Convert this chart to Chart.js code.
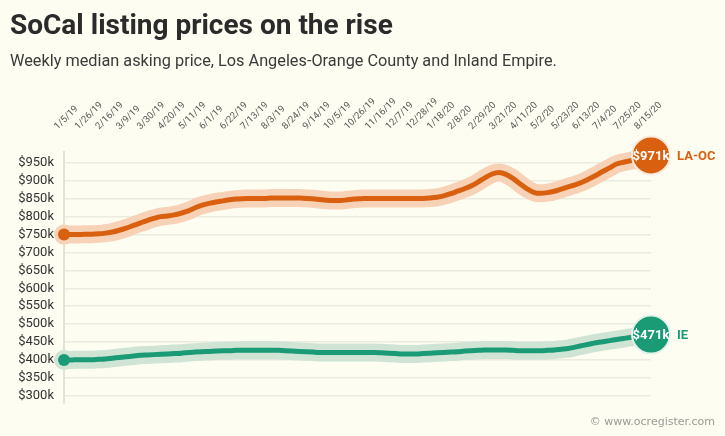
<!DOCTYPE html>
<html>
<head>
<meta charset="utf-8">
<script src="https://cdn.jsdelivr.net/npm/chart.js@4.4.1/dist/chart.umd.min.js"></script>
<style>
html,body{margin:0;padding:0;background:#fdfdf1;}
#wrap{position:relative;width:725px;height:436px;}
</style>
</head>
<body>
<div id="wrap"><canvas id="c"></canvas></div>
<script>
const titleText = 'SoCal listing prices on the rise';
const subtitleText = 'Weekly median asking price, Los Angeles-Orange County and Inland Empire.';
const creditText = '\u00A9 www.ocregister.com';

const weeks = [
  '1/5/19','1/12/19','1/19/19','1/26/19','2/2/19','2/9/19','2/16/19','2/23/19','3/2/19','3/9/19',
  '3/16/19','3/23/19','3/30/19','4/6/19','4/13/19','4/20/19','4/27/19','5/4/19','5/11/19','5/18/19',
  '5/25/19','6/1/19','6/8/19','6/15/19','6/22/19','6/29/19','7/6/19','7/13/19','7/20/19','7/27/19',
  '8/3/19','8/10/19','8/17/19','8/24/19','8/31/19','9/7/19','9/14/19','9/21/19','9/28/19','10/5/19',
  '10/12/19','10/19/19','10/26/19','11/2/19','11/9/19','11/16/19','11/23/19','11/30/19','12/7/19','12/14/19',
  '12/21/19','12/28/19','1/4/20','1/11/20','1/18/20','1/25/20','2/1/20','2/8/20','2/15/20','2/22/20',
  '2/29/20','3/7/20','3/14/20','3/21/20','3/28/20','4/4/20','4/11/20','4/18/20','4/25/20','5/2/20',
  '5/9/20','5/16/20','5/23/20','5/30/20','6/6/20','6/13/20','6/20/20','6/27/20','7/4/20','7/11/20',
  '7/18/20','7/25/20','8/1/20','8/8/20','8/15/20','8/22/20'
];

// Weekly median asking price, in $ thousands
const laocValues = [
  750,750,750,751,751,752,754,757,762,768,
  775,782,789,795,800,802,805,810,816,825,
  832,837,841,844,847,849,850,851,851,851,
  852,852,852,852,852,851,850,848,846,845,
  845,847,849,850,851,851,851,851,851,851,
  851,851,851,852,854,858,864,871,878,886,
  897,909,919,923,918,907,892,878,868,865,
  867,871,877,883,889,896,905,915,926,936,
  947,952,956,959,963,971
];
const ieValues = [
  400,400,401,401,401,402,403,405,407,409,
  411,413,414,415,416,417,418,419,421,422,
  423,424,425,426,426,427,427,427,427,427,
  427,427,426,425,424,423,422,421,421,421,
  421,421,421,421,421,421,420,419,418,417,
  417,417,418,419,420,421,422,423,425,426,
  427,428,428,428,428,427,426,426,426,426,
  427,428,430,432,436,440,444,448,451,454,
  457,460,463,465,467,471
];

const seriesNames = ['LA-OC', 'IE'];
const yTickValues = [300,350,400,450,500,550,600,650,700,750,800,850,900,950];
const tickEvery = 3;

const orange = '#d8600f', orangeHalo = '#f7d2b7';
const green = '#1a9a75', greenHalo = '#d0e4d5';

const lastIdx = weeks.length - 1;
const corePointRadius = c => c.dataIndex === 0 ? 6 : (c.dataIndex === lastIdx ? 19 : 0);
const haloPointRadius = c => c.dataIndex === 0 ? 10 : 0;

function coreDataset(name, data, color, ring) {
  return {
    label: name, endLabel: name, data: data,
    borderColor: color, backgroundColor: color, borderWidth: 5,
    borderCapStyle: 'round', borderJoinStyle: 'round',
    cubicInterpolationMode: 'monotone',
    pointRadius: corePointRadius,
    pointBackgroundColor: color,
    pointBorderColor: c => c.dataIndex === lastIdx ? ring : color,
    pointBorderWidth: c => c.dataIndex === lastIdx ? 2 : 0,
    clip: false, order: 0
  };
}
function haloDataset(name, data, color) {
  return {
    label: name + ' halo', data: data,
    borderColor: color, backgroundColor: color, borderWidth: 18,
    borderCapStyle: 'round', borderJoinStyle: 'round',
    cubicInterpolationMode: 'monotone',
    pointRadius: haloPointRadius, pointBackgroundColor: color, pointBorderWidth: 0,
    clip: false, order: 5
  };
}

const endLabels = {
  id: 'endLabels',
  afterDatasetsDraw(chart) {
    const ctx = chart.ctx;
    chart.data.datasets.forEach((ds, i) => {
      if (!ds.endLabel) return;
      const meta = chart.getDatasetMeta(i);
      const pt = meta.data[meta.data.length - 1];
      const v = ds.data[ds.data.length - 1];
      ctx.save();
      ctx.font = 'bold 13px Roboto';
      ctx.textBaseline = 'middle';
      ctx.textAlign = 'center';
      ctx.fillStyle = '#ffffff';
      ctx.fillText('$' + v + 'k', pt.x, pt.y + 1);
      ctx.textAlign = 'left';
      ctx.fillStyle = ds.borderColor;
      ctx.fillText(ds.endLabel, pt.x + 26, pt.y + 1);
      ctx.restore();
    });
  }
};
const credit = {
  id: 'credit',
  afterDraw(chart) {
    const ctx = chart.ctx;
    ctx.save();
    ctx.font = '11px "DejaVu Sans"';
    ctx.fillStyle = '#9a9a94';
    ctx.textAlign = 'right';
    ctx.textBaseline = 'middle';
    ctx.fillText(creditText, chart.width - 10, chart.height - 14);
    ctx.restore();
  }
};

new Chart(document.getElementById('c'), {
  type: 'line',
  data: {
    labels: weeks,
    datasets: [
      coreDataset(seriesNames[0], laocValues, orange, '#fbeadd'),
      coreDataset(seriesNames[1], ieValues, green, '#e4f2ea'),
      haloDataset(seriesNames[0], laocValues, orangeHalo),
      haloDataset(seriesNames[1], ieValues, greenHalo)
    ]
  },
  options: {
    responsive: true,
    maintainAspectRatio: false,
    animation: false,
    events: [],
    layout: { padding: { left: 10, right: 74, top: 0, bottom: 33 } },
    plugins: {
      legend: { display: false },
      tooltip: { enabled: false },
      title: {
        display: true, text: titleText, align: 'start', color: '#2b2b2b',
        font: { family: 'Roboto', weight: 'bold', size: 28 },
        padding: { top: 10, bottom: 4 }
      },
      subtitle: {
        display: true, text: subtitleText, align: 'start', color: '#3a3a3a',
        font: { family: 'Roboto', size: 16.3 },
        padding: { top: 5, bottom: 0 }
      }
    },
    scales: {
      x: {
        position: 'top',
        grid: { display: false, drawTicks: false },
        border: { display: false },
        ticks: {
          autoSkip: false, minRotation: 45, maxRotation: 45, padding: 20,
          color: '#555', font: { family: 'Roboto', size: 9.5 },
          callback: (v, i) => i % tickEvery === 0 ? weeks[i] : null
        },
        afterFit: s => { s.height = 80; }
      },
      y: {
        min: 280, max: 980,
        afterBuildTicks: s => { s.ticks = yTickValues.map(v => ({ value: v })); },
        afterFit: s => { s.width = 54; },
        grid: { color: '#ebebdf', lineWidth: 1.5, drawTicks: false },
        border: { display: true, color: '#e2e2d6', width: 2 },
        ticks: {
          padding: 10, color: '#333', font: { family: 'Roboto', size: 13 },
          callback: v => '$' + v + 'k'
        }
      }
    }
  },
  plugins: [endLabels, credit]
});
</script>
</body>
</html>
